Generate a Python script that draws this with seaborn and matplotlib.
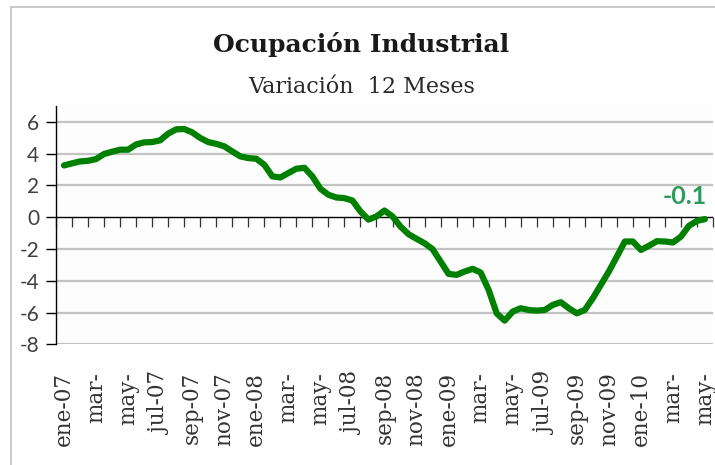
import matplotlib
matplotlib.use("Agg")
import matplotlib.pyplot as plt
import seaborn as sns
import numpy as np
import pandas as pd
from matplotlib.patches import Rectangle

# ---- data (half-month resolution) ----
month_labels = ["ene-07", "mar-", "may-", "jul-07", "sep-07", "nov-07",
                "ene-08", "mar-", "may-", "jul-08", "sep-08", "nov-08",
                "ene-09", "mar-", "may-", "jul-09", "sep-09", "nov-09",
                "ene-10", "mar-", "may-"]
n_months = 41  # ene-07 .. may-10
values = [3.26, 3.39, 3.51, 3.55, 3.66, 3.98, 4.12, 4.25, 4.25, 4.58,
          4.71, 4.73, 4.84, 5.26, 5.53, 5.55, 5.34, 4.99, 4.73, 4.62,
          4.46, 4.14, 3.83, 3.72, 3.68, 3.30, 2.57, 2.50, 2.78, 3.05,
          3.11, 2.57, 1.79, 1.41, 1.24, 1.20, 1.05, 0.36, -0.15, 0.05,
          0.42, 0.05, -0.59, -1.07, -1.36, -1.64, -2.01, -2.79, -3.57, -3.63,
          -3.42, -3.25, -3.48, -4.58, -6.05, -6.51, -5.94, -5.73, -5.84, -5.88,
          -5.84, -5.52, -5.35, -5.73, -6.05, -5.84, -5.10, -4.26, -3.42, -2.48,
          -1.53, -1.53, -2.06, -1.80, -1.51, -1.53, -1.59, -1.22, -0.54, -0.23,
          -0.12]
last_label = "-0.1"
y_ticks = [-8, -6, -4, -2, 0, 2, 4, 6]

df = pd.DataFrame({"pos": np.arange(len(values)) / 2.0, "val": values})

sns.set_theme(style="white")
plt.rcParams["font.family"] = ["DejaVu Sans"]

W, H = 715, 465
fig = plt.figure(figsize=(W / 100, H / 100), dpi=100, facecolor="white")

# outer chart frame
fig.patches.append(Rectangle((10.7 / W, -0.1), 1.2, 1 - 7.3 / H + 0.1,
                             transform=fig.transFigure, fill=False,
                             edgecolor="#c4c4c4", linewidth=1.3))

left, right = 56 / W, 713 / W
top, bottom = 1 - 106 / H, 1 - 344.3 / H
ax = fig.add_axes([left, bottom, right - left, top - bottom])
ax.set_facecolor("#fdfdfd")

ax.set_xlim(-0.5, n_months - 0.5)
ax.set_ylim(-8, 7)

# gridlines
for yv in y_ticks:
    if yv != 0:
        ax.axhline(yv, color="#c3c3c3", linewidth=1.6, zorder=1)

sns.lineplot(data=df, x="pos", y="val", ax=ax, color="#008000",
             linewidth=4.5, zorder=5, solid_joinstyle="round",
             solid_capstyle="round")

# zero axis line with category tick marks
ax.axhline(0, color="black", linewidth=1.0, zorder=3)
sec = ax.secondary_xaxis(8 / 15)
for s in sec.spines.values():
    s.set_visible(False)
sec.set_xticks(np.arange(-0.5, n_months, 1.0))
sec.set_xticklabels([])
sec.xaxis.set_ticks_position("bottom")
sec.tick_params(axis="x", which="both", direction="out", length=7.5, width=0.9,
                color="#333333", bottom=True, top=False,
                labelbottom=False, labeltop=False)

# category labels at bottom
ax.set_xticks(np.arange(0, n_months, 2))
ax.set_xticklabels(month_labels, rotation=90, family="DejaVu Serif",
                   fontsize=15.5, color="#333333")
ax.tick_params(axis="x", length=0, pad=20)

ax.set_yticks(y_ticks)
ax.set_yticklabels([str(v) for v in y_ticks], family="Lato", fontsize=15,
                   color="#404040")
ax.tick_params(axis="y", direction="out", length=7, width=1, color="black",
               pad=5, left=True)

for s in ["top", "right", "bottom"]:
    ax.spines[s].set_visible(False)
ax.spines["left"].set_color("black")
ax.spines["left"].set_linewidth(1.0)
ax.set_xlabel("")
ax.set_ylabel("")

# last value annotation
ax.text(38.76, 1.3, last_label, ha="center", va="center", color="#2e9a5e",
        fontsize=18, fontweight="bold", family="Lato", zorder=6)

# titles
fig.text(361 / W, 1 - 52 / H, "Ocupación Industrial", ha="center",
         va="baseline", family="DejaVu Serif", fontweight="bold",
         fontsize=18, color="#1a1a1a")
fig.text(361.5 / W, 1 - 93 / H, "Variación  12 Meses", ha="center",
         va="baseline", family="DejaVu Serif", fontsize=16,
         color="#2a2a2a")

fig.savefig("out.png", dpi=100, facecolor="white")
